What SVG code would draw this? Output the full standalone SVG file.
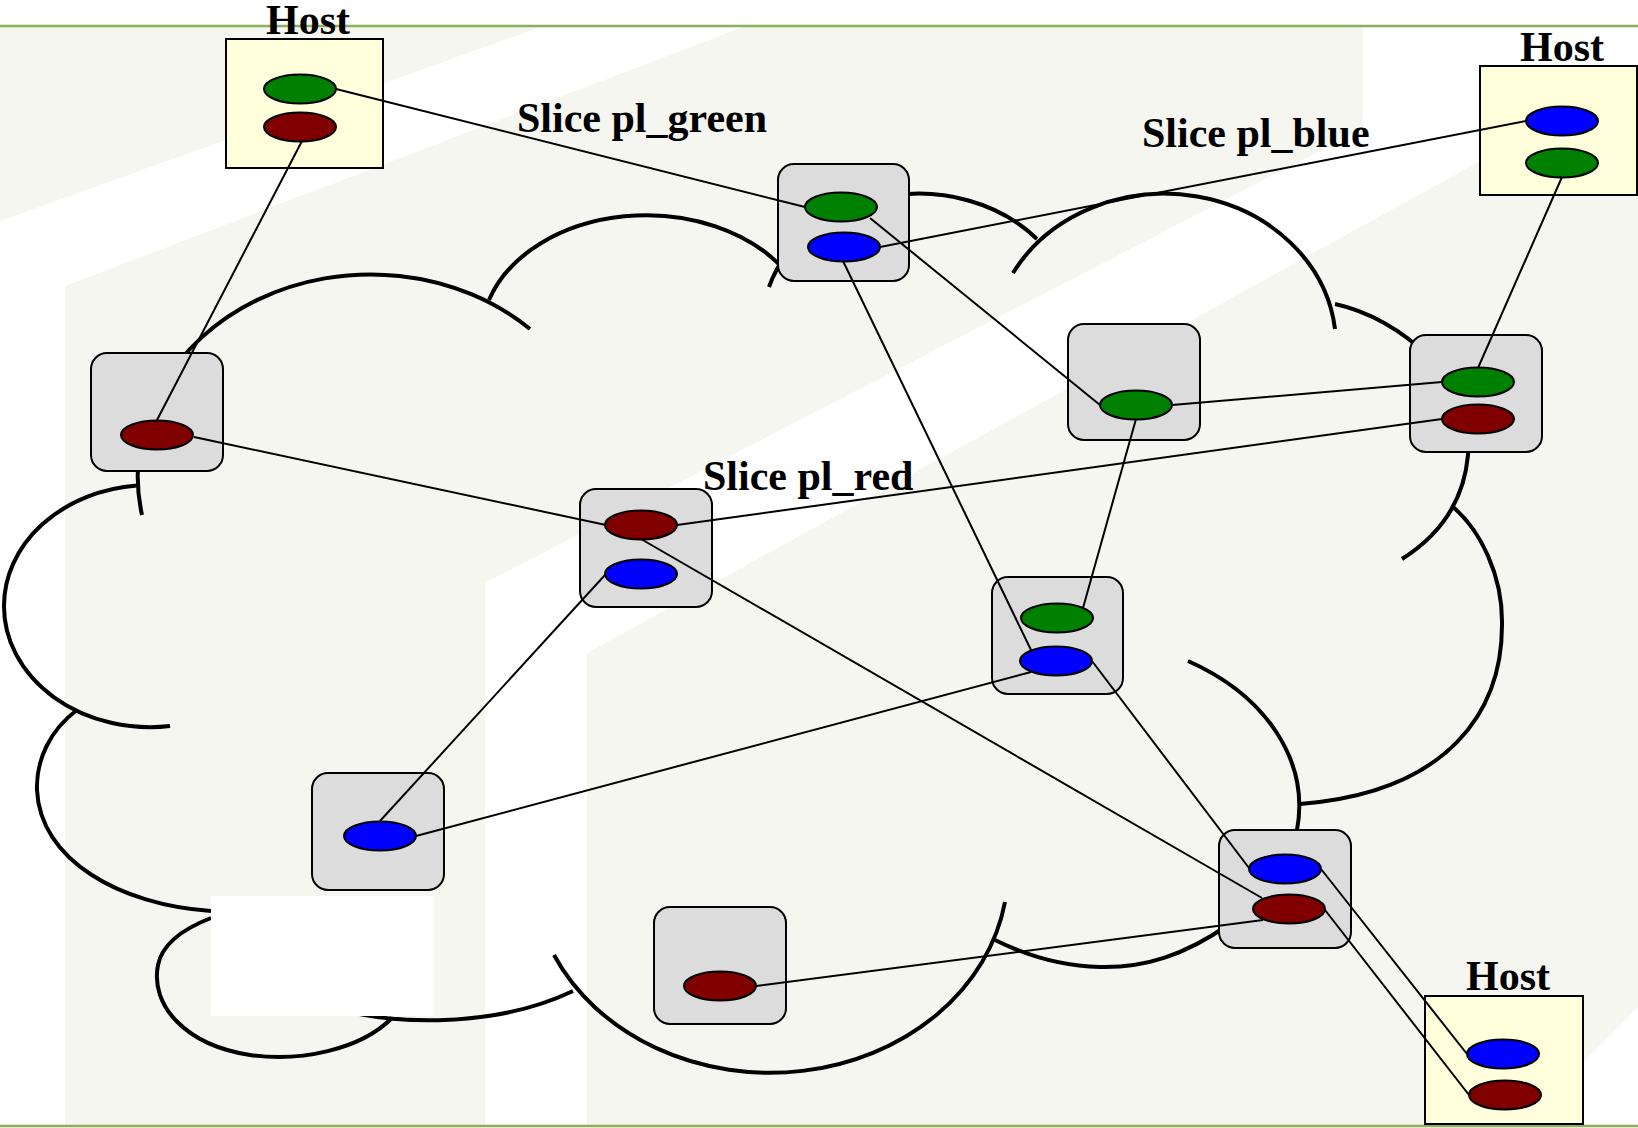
<svg xmlns="http://www.w3.org/2000/svg" width="1638" height="1128" viewBox="0 0 1638 1128">
  <style>
    .band { fill: #f5f6f0; }
    .rule { stroke: #8fae5c; stroke-width: 2.5; }
    .cloud { fill: none; stroke: #000; stroke-width: 4; stroke-linecap: butt; }
    .router { fill: #dcdcdc; stroke: #000; stroke-width: 2; }
    .host { fill: #ffffdc; stroke: #000; stroke-width: 2; }
    .if { stroke: #000; stroke-width: 2; }
    .g { fill: #008000; }
    .r { fill: #800000; }
    .b { fill: #0000ff; }
    .link { stroke: #000; stroke-width: 2; fill: none; }
    .label { font-family: "Liberation Serif", "Times New Roman", serif; font-weight: bold; font-size: 42px; fill: #000; }
  </style>

  <!-- page background with slanted bands -->
  <rect x="0" y="0" width="1638" height="1128" fill="#ffffff"/>
  <polygon class="band" points="0,27 541,27 0,221"/>
  <polygon class="band" points="65,286 743,27 1363,27 1363,128.5 485,583 485,1125 65,1125"/>
  <polygon class="band" points="587,653 1638,74 1638,1007 1520,1125 587,1125"/>
  <line class="rule" x1="0" y1="26" x2="1638" y2="26"/>
  <line class="rule" x1="0" y1="1126" x2="1638" y2="1126"/>

  <!-- network cloud drawn as overlapping lobes -->
  <g id="cloud">
    <path class="cloud" d="M142,515 A233,202 0 0 1 530,329"/>
    <path class="cloud" d="M489,300 A165,121 0 0 1 785,270.6"/>
    <path class="cloud" d="M769,287 A156,130 0 0 1 1037,239"/>
    <path class="cloud" d="M1013,273 A172,152 0 0 1 1335,329"/>
    <path class="cloud" d="M1335,304 C1400,318 1475,380 1468,455 C1464,500 1440,535 1402,559"/>
    <path class="cloud" d="M1453,507 C1480,530 1503,575 1502,625 C1502,710 1450,792 1300,804"/>
    <path class="cloud" d="M1188,661 C1265,695 1310,760 1297,830"/>
    <path class="cloud" d="M1228,925 C1185,955 1145,968 1100,967 C1060,966 1025,955 995,940"/>
    <path class="cloud" d="M1005,902 A238,203 0 0 1 554,955"/>
    <path class="cloud" d="M573,991 A219,120 0 0 1 300,997"/>
    <path class="cloud" d="M392,1018 C360,1050 300,1062 250,1055 C185,1045 150,1005 158,965 C162,945 180,930 211,918"/>
    <path class="cloud" d="M211,911 C120,905 40,860 37,790 C36,760 50,730 77,710"/>
    <path class="cloud" d="M137,485.5 A146,121 0 0 0 4,606 A146,121 0 0 0 170,726"/>
  </g>
  <rect x="211" y="896" width="223" height="120" fill="#ffffff"/>

  <!-- hosts -->
  <g id="host-nw">
    <rect class="host" x="226" y="39" width="157" height="129"/>
    <ellipse class="if g" cx="300" cy="89" rx="36" ry="14.5"/>
    <ellipse class="if r" cx="300" cy="127" rx="36" ry="14.5"/>
  </g>
  <g id="host-ne">
    <rect class="host" x="1480" y="66" width="157" height="129"/>
    <ellipse class="if b" cx="1562" cy="121" rx="36" ry="14.5"/>
    <ellipse class="if g" cx="1562" cy="163" rx="36" ry="14.5"/>
  </g>
  <g id="host-se">
    <rect class="host" x="1425" y="996" width="158" height="128"/>
    <ellipse class="if b" cx="1503" cy="1054" rx="36" ry="14.5"/>
    <ellipse class="if r" cx="1505" cy="1095" rx="36" ry="14.5"/>
  </g>

  <!-- routers -->
  <g id="router-1">
    <rect class="router" x="91" y="353" width="132" height="118" rx="16"/>
    <ellipse class="if r" cx="157" cy="435" rx="36" ry="14.5"/>
  </g>
  <g id="router-2">
    <rect class="router" x="778" y="164" width="131" height="117" rx="16"/>
    <ellipse class="if g" cx="841" cy="207" rx="36" ry="14.5"/>
    <ellipse class="if b" cx="844" cy="247" rx="36" ry="14.5"/>
  </g>
  <g id="router-3">
    <rect class="router" x="1068" y="324" width="132" height="116" rx="16"/>
    <ellipse class="if g" cx="1136" cy="405" rx="36" ry="14.5"/>
  </g>
  <g id="router-4">
    <rect class="router" x="1410" y="335" width="132" height="117" rx="16"/>
    <ellipse class="if g" cx="1478" cy="382" rx="36" ry="14.5"/>
    <ellipse class="if r" cx="1478" cy="419" rx="36" ry="14.5"/>
  </g>
  <g id="router-5">
    <rect class="router" x="580" y="489" width="132" height="118" rx="16"/>
    <ellipse class="if r" cx="641" cy="525" rx="36" ry="14.5"/>
    <ellipse class="if b" cx="641" cy="574" rx="36" ry="14.5"/>
  </g>
  <g id="router-6">
    <rect class="router" x="992" y="577" width="131" height="117" rx="16"/>
    <ellipse class="if g" cx="1057" cy="618" rx="36" ry="14.5"/>
    <ellipse class="if b" cx="1056" cy="661" rx="36" ry="14.5"/>
  </g>
  <g id="router-7">
    <rect class="router" x="312" y="773" width="132" height="117" rx="16"/>
    <ellipse class="if b" cx="380" cy="836" rx="36" ry="14.5"/>
  </g>
  <g id="router-8">
    <rect class="router" x="1219" y="830" width="132" height="118" rx="16"/>
    <ellipse class="if b" cx="1285" cy="869" rx="36" ry="14.5"/>
    <ellipse class="if r" cx="1289" cy="909" rx="36" ry="14.5"/>
  </g>
  <g id="router-9">
    <rect class="router" x="654" y="907" width="132" height="117" rx="16"/>
    <ellipse class="if r" cx="720" cy="986" rx="36" ry="14.5"/>
  </g>

  <!-- slice links -->
  <g id="links">
    <line class="link" x1="336" y1="89" x2="805" y2="207"/>
    <line class="link" x1="302" y1="141" x2="157" y2="420"/>
    <line class="link" x1="194" y1="437" x2="606" y2="525"/>
    <line class="link" x1="677" y1="525" x2="1442" y2="419"/>
    <line class="link" x1="641" y1="539" x2="1262" y2="898"/>
    <line class="link" x1="605" y1="575" x2="380" y2="821"/>
    <line class="link" x1="416" y1="836" x2="1031" y2="672"/>
    <line class="link" x1="870" y1="218" x2="1100" y2="405"/>
    <line class="link" x1="880" y1="247" x2="1526" y2="121"/>
    <line class="link" x1="843" y1="261" x2="1031" y2="650"/>
    <line class="link" x1="1172" y1="405" x2="1442" y2="382"/>
    <line class="link" x1="1136" y1="419" x2="1083" y2="608"/>
    <line class="link" x1="1562" y1="177" x2="1478" y2="368"/>
    <line class="link" x1="1092" y1="661" x2="1249" y2="868"/>
    <line class="link" x1="1321" y1="869" x2="1467" y2="1054"/>
    <line class="link" x1="1325" y1="910" x2="1469" y2="1095"/>
    <line class="link" x1="756" y1="986" x2="1263" y2="920"/>
  </g>

  <!-- labels -->
  <g id="labels">
    <text class="label" x="308" y="34" text-anchor="middle">Host</text>
    <text class="label" x="1562" y="61" text-anchor="middle">Host</text>
    <text class="label" x="1508" y="990" text-anchor="middle">Host</text>
    <text class="label" x="517" y="132">Slice pl_green</text>
    <text class="label" x="1142" y="147">Slice pl_blue</text>
    <text class="label" x="703" y="490">Slice pl_red</text>
  </g>
</svg>
